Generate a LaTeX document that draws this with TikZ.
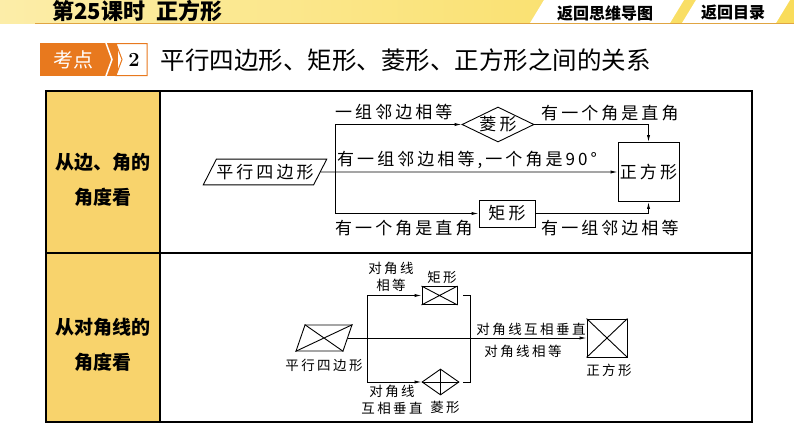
\documentclass[tikz,border=0pt]{standalone}
\usepackage{fontspec}
\usetikzlibrary{shapes.geometric,arrows.meta,positioning}
\newfontfamily\cjk{Noto Sans CJK SC}
\newfontfamily\cjksp[LetterSpace=18]{Noto Sans CJK SC}
\definecolor{hdrA}{HTML}{FCEDA8}
\definecolor{hdrB}{HTML}{F9DC5A}
\definecolor{kdorange}{HTML}{E8791E}
\definecolor{colyellow}{HTML}{F8D36C}
\definecolor{lineorange}{HTML}{E0A542}
\definecolor{footyellow}{HTML}{FEF08C}

\begin{document}
\begin{tikzpicture}[x=1pt,y=-1pt,
  box/.style={draw,line width=0.9pt,inner sep=1pt},
  lbl/.style={font=\cjksp\fontsize{17}{19}\selectfont,inner sep=1pt},
  sml/.style={font=\cjksp\fontsize{13.5}{17}\selectfont,inner sep=1pt,align=center},
  conn/.style={line width=0.9pt},
  arr/.style={conn,-{Latex[length=7pt,width=3.2pt]}},
  grid/.style={line width=1.2pt}]
\useasboundingbox (0,0) rectangle (794,447);
\fill[white] (0,0) rectangle (794,447);

\shade[left color=hdrA,right color=hdrB] (0,0) rectangle (794,23);
\fill[white] (530,23) -- (544,0) -- (684,0) -- (670,23) -- cycle;
\fill[white] (682,23) -- (696,0) -- (790,0) -- (776,23) -- cycle;
\draw[lineorange,line width=1.5pt] (35,23.5) -- (794,23.5);
\node[font=\cjk\bfseries\fontsize{22}{24}\selectfont,anchor=west] (lesson) at (49,11) {第25课时\hspace{0.5em}正方形};
\node[font=\cjk\bfseries\fontsize{16}{18}\selectfont] (toMap) at (605,13) {返回思维导图};
\node[font=\cjk\bfseries\fontsize{16}{18}\selectfont] (toList) at (733,13) {返回目录};

\fill[kdorange] (40,43) -- (118,43) -- (118,76) -- (40,76) -- cycle;
\draw[white,line width=1.5pt] (106,43) -- (112,59.5) -- (106,76);
\draw[kdorange,fill=white,line width=1pt] (116,43.5) -- (147,43.5) -- (147,75.5) -- (116,75.5) -- (122,59.5) -- cycle;
\node[font=\cjk\fontsize{20}{22}\selectfont,text=white] (kd) at (73,59.5) {考点};
\node[font=\rmfamily\bfseries\fontsize{20}{22}\selectfont] (kdnum) at (134,60) {2};
\node[font=\cjk\fontsize{24.5}{26}\selectfont,anchor=west] (topic) at (157,60) {平行四边形、矩形、菱形、正方形之间的关系};

\fill[colyellow] (46,91) rectangle (160,422);
\draw[grid] (46,91) rectangle (752,422);
\draw[grid] (160,91) -- (160,422) (46,253) -- (752,253);
\node[font=\cjk\bfseries\fontsize{19}{35}\selectfont,align=center] (rowA) at (103,179.5) {从边、角的\\角度看};
\node[font=\cjk\bfseries\fontsize{19}{35}\selectfont,align=center] (rowB) at (103,345) {从对角线的\\角度看};

\node[box,trapezium,trapezium left angle=63,trapezium right angle=117,inner xsep=0pt,inner ysep=5pt,font=\cjksp\fontsize{17}{19}\selectfont] (para) at (265,172) {平行四边形};
\node[box,diamond,aspect=2,minimum width=72pt,minimum height=35pt,inner sep=0pt,font=\cjksp\fontsize{17}{19}\selectfont] (ling) at (498,124.5) {菱形};
\node[box,minimum width=61pt,minimum height=59pt,inner sep=0pt,font=\cjksp\fontsize{17}{19}\selectfont] (zfx) at (648.5,172) {正方形};
\node[box,minimum width=56pt,minimum height=27pt,font=\cjksp\fontsize{17}{19}\selectfont] (jx) at (507,213.5) {矩形};
\coordinate (brA) at (335,124.5);
\coordinate (brB) at (335,213.5);
\draw[conn] (brA) -- (brB);
\draw[arr] (brA) -- (ling.west);
\draw[arr] (brB) -- (jx.west);
\draw[arr] (para.east) -- (zfx.west);
\draw[arr] (ling.east) -| (zfx.north);
\draw[arr] (jx.east) -| (zfx.south);
\node[lbl,anchor=west] (lblA) at (334,112) {一组邻边相等};
\node[lbl,anchor=west] (lblB) at (540,113) {有一个角是直角};
\node[lbl,anchor=west] (lblC) at (336,160) {有一组邻边相等,一个角是90°};
\node[lbl,anchor=west] (lblD) at (334,228) {有一个角是直角};
\node[lbl,anchor=west] (lblE) at (540,228) {有一组邻边相等};

\node[box,trapezium,trapezium left angle=71,trapezium right angle=109,inner xsep=19pt,inner ysep=13pt] (pxd) at (324,338) {};
\draw[conn] (pxd.top left corner) -- (pxd.bottom right corner) (pxd.bottom left corner) -- (pxd.top right corner);
\node[box,minimum width=35pt,minimum height=18pt,inner sep=0pt] (jxd) at (439.5,295.5) {};
\draw[conn] (jxd.north west) -- (jxd.south east) (jxd.south west) -- (jxd.north east);
\node[box,diamond,minimum width=37pt,minimum height=26pt,inner sep=0pt] (lgd) at (440.5,382) {};
\draw[conn] (lgd.north) -- (lgd.south) (lgd.west) -- (lgd.east);
\node[box,minimum width=40pt,minimum height=38pt,inner sep=0pt] (zfd) at (607,338) {};
\draw[conn] (zfd.north west) -- (zfd.south east) (zfd.south west) -- (zfd.north east);
\coordinate (bA) at (367,295.5);
\coordinate (bB) at (367,382);
\draw[conn] (bA) -- (bB);
\draw[arr] (bA) -- (jxd.west);
\draw[arr] (bB) -- (lgd.west);
\draw[conn] ([xshift=6pt]jxd.east) -- ++(7,0) |- ([xshift=4pt]lgd.east);
\draw[arr] (pxd.east) -- (zfd.west);
\node[sml] (pxdl) at (324,365) {平行四边形};
\node[sml] (lbA) at (391,277) {对角线\\相等};
\node[sml] (lbjx) at (442,277) {矩形};
\node[sml] (lbB) at (392,400) {对角线\\互相垂直};
\node[sml] (lblg) at (445,407) {菱形};
\node[sml] (lbC) at (531,329) {对角线互相垂直};
\node[sml] (lbD) at (523,351) {对角线相等};
\node[sml] (lbzf) at (609,370) {正方形};
\end{tikzpicture}
\end{document}
